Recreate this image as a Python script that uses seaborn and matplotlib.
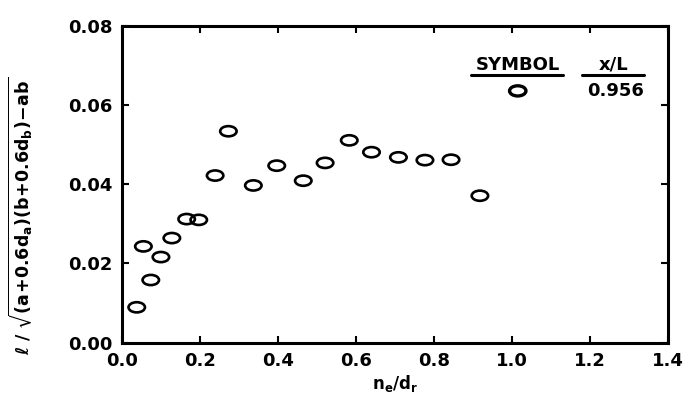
import matplotlib.pyplot as plt
import numpy as np
import pandas as pd
import seaborn as sns
from matplotlib.path import Path
from matplotlib.transforms import Affine2D

sns.set_theme(style="ticks")
plt.rcParams['font.family'] = ['DejaVu Sans']
plt.rcParams['font.weight'] = 'bold'
plt.rcParams['text.color'] = 'black'
plt.rcParams['axes.labelcolor'] = 'black'
plt.rcParams['mathtext.fontset'] = 'dejavusans'
plt.rcParams['mathtext.default'] = 'bf'

# values (x/L = 0.956)
ne_dr = [0.038, 0.055, 0.074, 0.100, 0.128, 0.166, 0.197, 0.239, 0.273, 0.337,
         0.397, 0.465, 0.521, 0.583, 0.640, 0.709, 0.777, 0.844, 0.918]
ratio = [0.0089, 0.0243, 0.0158, 0.0216, 0.0264, 0.0312, 0.0310, 0.0422, 0.0534, 0.0397,
         0.0447, 0.0409, 0.0454, 0.0511, 0.0481, 0.0468, 0.0461, 0.0462, 0.0371]
x_ticks = [0.0, 0.2, 0.4, 0.6, 0.8, 1.0, 1.2, 1.4]
y_ticks = [0.00, 0.02, 0.04, 0.06, 0.08]

df = pd.DataFrame({'ne_dr': ne_dr, 'ratio': ratio})

# open ellipse marker, wider than tall
ellipse = Path.unit_circle().transformed(Affine2D().scale(1.0, 0.62))

fig = plt.figure(figsize=(6.85, 3.98), dpi=100)
ax = fig.add_axes([0.178, 0.1394, 0.797, 0.7953])

sns.scatterplot(data=df, x='ne_dr', y='ratio', marker=ellipse, s=140,
                facecolors='none', edgecolor='black', linewidth=1.9, ax=ax)

ax.set_xlim(0, 1.4)
ax.set_ylim(0, 0.08)
ax.set_xticks(x_ticks)
ax.set_yticks(y_ticks)
ax.set_xticklabels([f'{t:.1f}' for t in x_ticks])
ax.set_yticklabels([f'{t:.2f}' for t in y_ticks])
ax.tick_params(direction='in', length=5, width=1.5, top=True, right=True,
               labelsize=13, pad=7, color='black', labelcolor='black')
for lab in ax.get_xticklabels() + ax.get_yticklabels():
    lab.set_fontweight('bold')
for sp in ax.spines.values():
    sp.set_visible(True)
    sp.set_linewidth(2.2)
    sp.set_color('black')

ax.set_xlabel(r'$n_e/d_r$', fontsize=12, labelpad=2)
ax.set_ylabel(r'$\ell\ /\ \sqrt{(a\!+\!0.6d_a)(b\!+\!0.6d_b)\!-\!ab}$', fontsize=12.5)
ax.yaxis.set_label_coords(-0.16, 0.40)

# legend block drawn as text, like the original
ax.text(0.725, 0.877, 'SYMBOL', transform=ax.transAxes, ha='center', va='center',
        fontsize=13, fontweight='bold')
ax.text(0.901, 0.877, 'x/L', transform=ax.transAxes, ha='center', va='center',
        fontsize=13, fontweight='bold')
ax.plot([0.640, 0.808], [0.845, 0.845], transform=ax.transAxes, color='black', lw=2.2)
ax.plot([0.843, 0.957], [0.845, 0.845], transform=ax.transAxes, color='black', lw=2.2)
ax.scatter([0.725], [0.795], transform=ax.transAxes, marker=ellipse, s=140,
           facecolors='none', edgecolors='black', linewidths=2.4, clip_on=False)
ax.text(0.904, 0.795, '0.956', transform=ax.transAxes, ha='center', va='center',
        fontsize=13, fontweight='bold')

fig.savefig('out.png', dpi=100)
